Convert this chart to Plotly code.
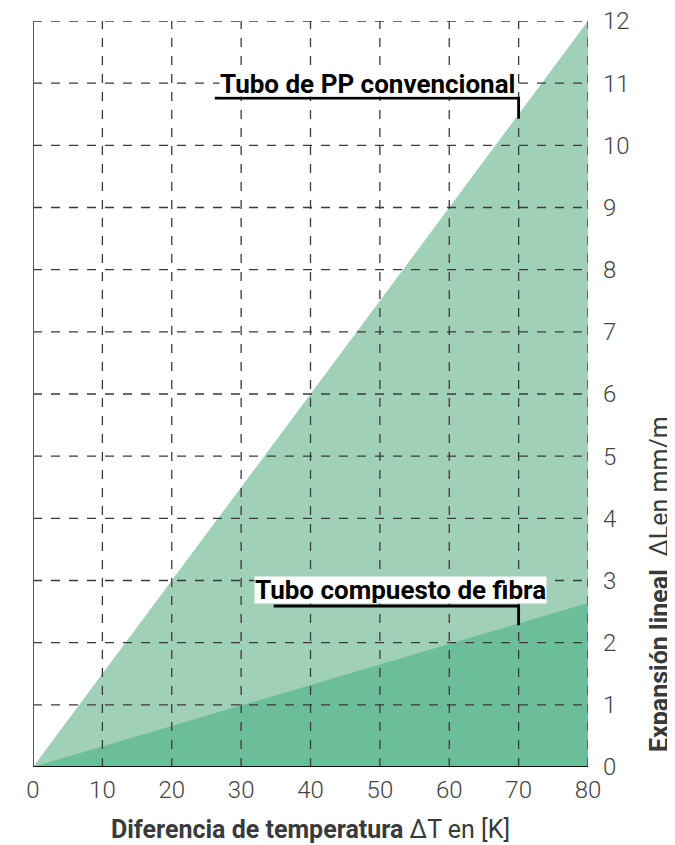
import plotly.graph_objects as go

# Data
delta_t = [0, 80]
pp_expansion = [0, 12.0]
fibra_expansion = [0, 2.64]
x_ticks = [0, 10, 20, 30, 40, 50, 60, 70, 80]
y_ticks = list(range(0, 13))

light_green = "rgb(160,208,184)"
dark_green = "rgb(108,190,154)"

fig = go.Figure()
fig.add_trace(go.Scatter(x=delta_t, y=pp_expansion, mode="lines", line=dict(width=0),
                         fill="tozeroy", fillcolor=light_green, hoverinfo="skip", showlegend=False))
fig.add_trace(go.Scatter(x=delta_t, y=fibra_expansion, mode="lines", line=dict(width=0),
                         fill="tozeroy", fillcolor=dark_green, hoverinfo="skip", showlegend=False))

shapes = []
grid_style = dict(color="#3a3a3a", width=1.3, dash="dash")
for xv in x_ticks[1:]:
    shapes.append(dict(type="line", xref="x", yref="y", x0=xv, x1=xv, y0=0, y1=12,
                       line=grid_style, layer="above"))
for yv in y_ticks[1:]:
    shapes.append(dict(type="line", xref="x", yref="y", x0=0, x1=80, y0=yv, y1=yv,
                       line=grid_style, layer="above"))
# axes lines
shapes.append(dict(type="line", xref="x", yref="y", x0=0, x1=0, y0=0, y1=12,
                   line=dict(color="#555555", width=2), layer="above"))
shapes.append(dict(type="line", xref="x", yref="y", x0=0, x1=80, y0=0, y1=0,
                   line=dict(color="#111111", width=2), layer="above"))
# leader lines
leader = dict(color="black", width=2.8)
shapes.append(dict(type="path", xref="x", yref="y",
                   path="M 26.2 10.76 L 70 10.76 L 70 10.43", line=leader, layer="above"))
shapes.append(dict(type="path", xref="x", yref="y",
                   path="M 34.7 2.59 L 70 2.59 L 70 2.28", line=leader, layer="above"))

label_font = dict(family="Roboto", size=26, color="black", weight="bold")

# page geometry (the page body adds an 8px offset)
W, H = 667, 837
L, R, T, B = 25, 87, 13, 78
plot_w = W - L - R
plot_h = H - T - B

annotations = [
    dict(x=48.3, y=11.0, xref="x", yref="y", text="Tubo de PP convencional", showarrow=False,
         font=label_font, bgcolor="white", borderpad=0, height=25),
    dict(x=53.0, y=2.85, xref="x", yref="y", text="Tubo compuesto de fibra", showarrow=False,
         font=label_font, bgcolor="white", borderpad=0, height=26),
    dict(x=1 + (659 - 588) / plot_w, y=(767 - 584) / plot_h, xref="paper", yref="paper",
         xanchor="center", yanchor="middle",
         text="<b>Expansión lineal</b>  ΔLen mm/m",
         showarrow=False, textangle=-90, font=dict(family="Roboto", size=25, color="#3a3a3a")),
    dict(x=0.5, y=-(829 - 767) / plot_h, xref="paper", yref="paper",
         xanchor="center", yanchor="middle",
         text="<b>Diferencia de temperatura</b> ΔT en [K]",
         showarrow=False, font=dict(family="Roboto", size=25, color="#3a3a3a")),
]

tick_font = dict(family="Roboto", size=24, color="#444444", weight=300)

fig.update_layout(
    width=W, height=H,
    margin=dict(l=L, r=R, t=T, b=B, autoexpand=False),
    plot_bgcolor="white", paper_bgcolor="white",
    shapes=shapes, annotations=annotations, showlegend=False,
    xaxis=dict(range=[0, 80], tickvals=x_ticks, showgrid=False, zeroline=False, showline=False,
               ticks="", tickfont=tick_font, ticklabelstandoff=6, ticklabeloverflow="allow",
               automargin=False),
    yaxis=dict(range=[0, 12], tickvals=y_ticks, side="right", showgrid=False, zeroline=False,
               showline=False, ticks="", ticklabelstandoff=14, tickfont=tick_font,
               ticklabeloverflow="allow", automargin=False),
)

fig.write_html("out.html")
